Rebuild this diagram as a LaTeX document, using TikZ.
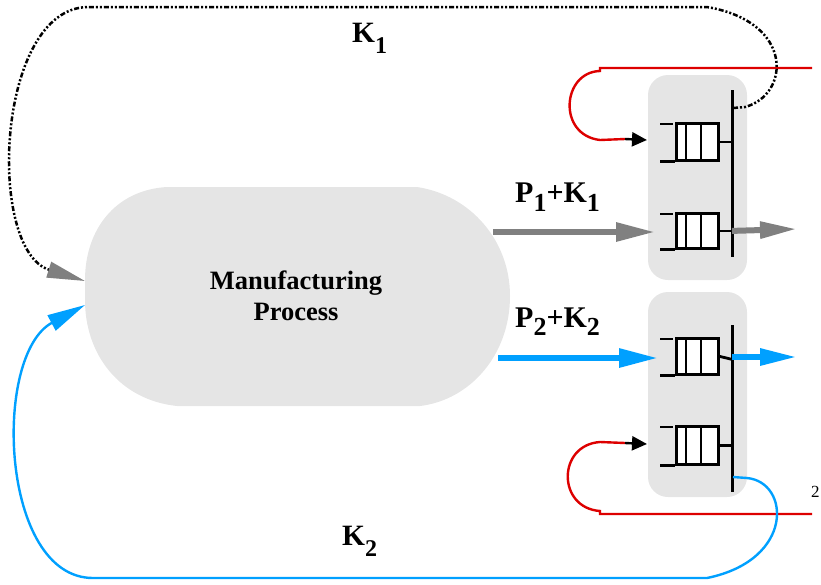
\documentclass[tikz,border=0pt]{standalone}
\usepackage{fontspec}
\setmainfont{Liberation Serif}
\usetikzlibrary{arrows.meta,calc}
\definecolor{fillgray}{RGB}{229,229,229}
\definecolor{arrgray}{RGB}{128,128,128}
\definecolor{kblue}{RGB}{0,160,255}
\definecolor{kred}{RGB}{221,0,0}
\newcommand\lowsub[3]{\raisebox{-#1}{\fontsize{#2}{#2}\selectfont #3}}
\tikzset{
  panel/.style={fill=fillgray, rounded corners=20pt, minimum width=99pt, minimum height=205pt, inner sep=0pt, draw=none},
  queue/.style={draw=black, fill=white, line width=2.8pt, minimum width=42pt, inner sep=0pt, anchor=north west},
  qline/.style={line width=2.8pt},
  barline/.style={line width=3pt},
  ingray/.style={draw=arrgray, line width=6pt, -{Triangle[length=39pt,width=18pt]}},
  inblue/.style={draw=kblue, line width=6pt, -{Triangle[length=39pt,width=18pt]}},
  outgray/.style={draw=arrgray, line width=6pt, -{Triangle[length=37pt,width=16pt]}},
  outblue/.style={draw=kblue, line width=6pt, -{Triangle[length=37pt,width=16pt]}},
  kone/.style={draw=black, line width=2.5pt, dash pattern=on 5pt off 2pt on 2pt off 2pt on 2pt off 2pt,
    -{Triangle[length=38pt,width=16pt,color=arrgray]}},
  ktwo/.style={draw=kblue, line width=2.4pt, -{Triangle[length=38pt,width=17pt]}},
  redline/.style={draw=kred, line width=2.4pt},
  smallarrow/.style={draw=black, line width=2.4pt, -{Triangle[length=15pt,width=14pt]}},
  lbl/.style={inner sep=0pt, anchor=base west, font=\bfseries},
}
\begin{document}
\begin{tikzpicture}[x=1pt,y=-1pt]
\useasboundingbox (0,0) rectangle (821,584);

% manufacturing process blob
\path[fill=fillgray] (167,187) -- (417,187)
  .. controls (470,195) and (510,240) .. (510,296)
  .. controls (510,355) and (470,400) .. (420,406)
  -- (177,406)
  .. controls (120,400) and (85,355) .. (85,300)
  -- (85,280)
  .. controls (85,230) and (115,190) .. (167,187) -- cycle;
\node[font=\fontsize{26.5}{30.5}\selectfont\bfseries, align=center, inner sep=0pt] (proc) at (296,296) {Manufacturing\\Process};

% panels
\node[panel] (pan1) at (697.5,177.5) {};
\node[panel] (pan2) at (697.5,394.5) {};

% queues
\foreach \n/\yt/\yb in {qa/122/159, qb/212/247, qc/337/373, qd/425/463} {
  \node[queue, minimum height={\yb-\yt}] (\n) at (675,\yt) {};
  \draw[qline] ([xshift=11pt]\n.north west) -- ([xshift=11pt]\n.south west);
  \draw[qline] ([xshift=26pt]\n.north west) -- ([xshift=26pt]\n.south west);
  \draw[qline] ([xshift=-15pt,yshift=-2pt]\n.north west) -- ([xshift=-2pt,yshift=-2pt]\n.north west);
  \draw[qline] ([xshift=-15pt]\n.south west) -- (\n.south west);
}

% bars
\coordinate (b1t) at (732,90);  \coordinate (b1b) at (732,257);
\coordinate (b2t) at (732,325); \coordinate (b2b) at (732,492);
\draw[barline] (b1t) -- (b1b);
\draw[barline] (b2t) -- (b2b);
\draw[qline] (qa.east) -- (qa.east -| b1t);
\draw[qline] (qb.east) -- (qb.east -| b1t);
\draw[qline] (qc.east) -- ($(qc.east -| b2t)+(0,3)$);
\draw[qline] (qd.east) -- (qd.east -| b2t);

% outputs
\coordinate (out1) at (797,229);
\coordinate (out2) at (797,357);
\draw[outgray] (qb.east -| b1t) -- (out1);
\draw[outblue] (732,357) -- (out2);

% inputs
\coordinate (in1s) at (493,232); \coordinate (in1e) at (655,232);
\coordinate (in2s) at (498,358); \coordinate (in2e) at (658,358);
\draw[ingray] (in1s) -- (in1e);
\draw[inblue] (in2s) -- (in2e);

% red feedback lines
\coordinate (r1s) at (812,68);
\coordinate (r1e) at (625,139);
\draw[redline] (r1s) -- (600,68) -- (600,71)
  .. controls (562,72) and (557,135) .. (600,140) -- (r1e);
\draw[smallarrow] (r1e) -- (647,140);
\coordinate (r2s) at (812,514);
\coordinate (r2e) at (625,443);
\draw[redline] (r2s) -- (600,514) -- (600,511)
  .. controls (557,508) and (557,445) .. (600,442) -- (r2e);
\draw[smallarrow] (r2e) -- (647,444);

% K1 dotted feedback
\coordinate (k1s) at (733,108);
\coordinate (k1e) at (85,281);
\draw[kone] (k1s) -- (745,107)
  .. controls (790,95) and (795,22) .. (707,7)
  -- (88,7)
  .. controls (-4,8) and (-14,250) .. (k1e);

% K2 blue feedback
\coordinate (k2s) at (733,477);
\coordinate (k2e) at (85,305);
\draw[ktwo] (k2s) -- (747,478)
  .. controls (790,482) and (795,560) .. (707,578)
  -- (93,578)
  .. controls (0,578) and (-8,355) .. (k2e);

% labels
\node[lbl] (k1lab) at (352,42) {\fontsize{29.5}{30}\selectfont K\lowsub{11pt}{24}{1}};
\node[lbl] (k2lab) at (342,545) {\fontsize{29.5}{30}\selectfont K\lowsub{11pt}{24}{2}};
\node[lbl] (p1lab) at (515,202) {\fontsize{30}{30}\selectfont P\lowsub{9pt}{26}{1}+K\lowsub{9pt}{26}{1}};
\node[lbl] (p2lab) at (515,327) {\fontsize{30}{30}\selectfont P\lowsub{8pt}{26}{2}+K\lowsub{8pt}{26}{2}};
\node[inner sep=0pt, anchor=base west, font=\fontsize{17}{17}\selectfont] (two) at (811,497) {2};
\end{tikzpicture}
\end{document}
